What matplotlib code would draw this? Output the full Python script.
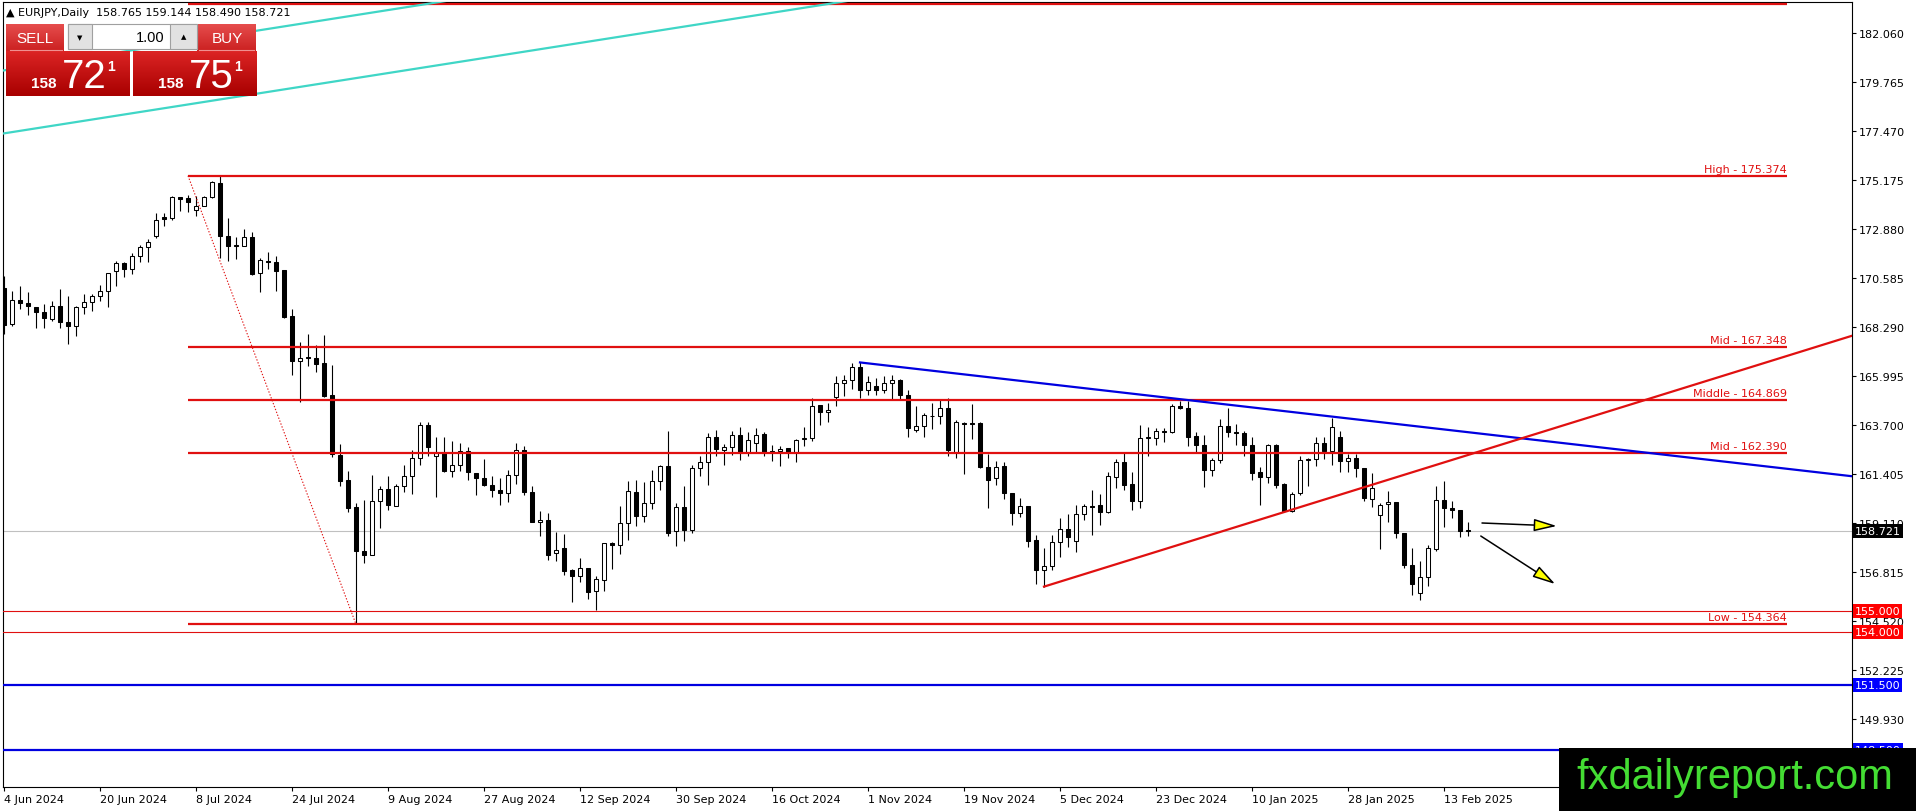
import matplotlib
matplotlib.use("Agg")
import matplotlib.pyplot as plt
import matplotlib.transforms as mtransforms
from matplotlib.patches import Rectangle
import numpy as np

# EURJPY daily candles (bar 0 = 4 Jun 2024, last = 18 Feb 2025)
opens = [170.10, 168.43, 169.57, 169.41, 169.21, 168.98, 168.66, 169.29, 168.51, 168.32,
         169.21, 169.48, 169.73, 169.99, 170.93, 171.27, 171.01, 171.63, 172.02, 172.54,
         173.43, 173.38, 174.36, 174.31, 173.77, 173.97, 174.36, 175.03, 172.54, 172.13,
         172.10, 172.49, 170.80, 171.40, 171.32, 170.96, 168.79, 166.71, 166.87, 166.86,
         166.60, 165.10, 162.29, 161.12, 159.84, 157.81, 157.63, 160.12, 160.70, 159.92,
         160.83, 161.33, 162.14, 163.70, 162.23, 162.37, 161.56, 161.84, 162.46, 161.43,
         161.20, 160.90, 160.67, 160.50, 161.37, 162.54, 160.54, 159.17, 159.26, 157.69,
         157.92, 156.91, 156.64, 156.98, 155.91, 156.45, 158.17, 158.09, 159.09, 160.54,
         159.45, 160.03, 161.06, 161.76, 158.72, 159.84, 158.80, 161.67, 161.99, 163.12,
         162.54, 162.65, 163.25, 162.42, 162.86, 163.28, 162.45, 162.47, 162.60, 162.45,
         163.04, 163.07, 164.64, 164.29, 164.99, 165.65, 165.81, 166.40, 165.35, 165.51,
         165.35, 165.65, 165.81, 165.12, 163.48, 163.67, 164.10, 164.11, 164.50, 162.45,
         163.80, 163.78, 163.79, 161.75, 161.20, 161.76, 160.51, 159.56, 159.89, 158.31,
         156.92, 157.11, 158.20, 158.83, 158.25, 159.53, 159.92, 159.95, 159.64, 161.25,
         161.95, 160.93, 160.16, 163.08, 163.08, 163.40, 163.35, 164.57, 164.48, 163.17,
         162.78, 161.61, 162.08, 163.64, 163.36, 163.32, 162.78, 161.48, 161.25, 162.76,
         160.94, 159.66, 160.50, 162.06, 162.11, 162.84, 162.46, 163.12, 162.03, 162.14,
         161.67, 160.23, 159.50, 160.00, 160.08, 158.62, 157.16, 155.81, 156.56, 157.89,
         160.20, 159.80, 159.72, 158.765]
highs = [170.69, 169.96, 170.19, 169.91, 169.21, 169.37, 169.52, 170.07, 169.73, 169.26,
         169.83, 169.83, 170.26, 170.80, 171.40, 171.35, 171.76, 172.13, 172.41, 173.63,
         173.63, 174.44, 174.36, 174.47, 174.44, 174.44, 175.14, 175.374, 173.38, 172.49,
         172.88, 172.75, 171.50, 171.79, 171.63, 170.96, 169.13, 167.57, 167.96, 167.45,
         167.91, 166.51, 162.81, 161.53, 160.03, 160.19, 161.36, 160.86, 161.29, 160.93,
         161.84, 162.54, 163.82, 163.82, 163.12, 163.12, 162.96, 162.86, 162.65, 161.43,
         162.11, 161.29, 161.20, 161.61, 162.86, 162.73, 160.83, 159.69, 159.56, 158.67,
         158.59, 156.95, 157.45, 156.98, 156.64, 158.17, 158.23, 159.92, 161.06, 161.12,
         161.04, 161.59, 161.83, 163.40, 160.03, 160.83, 161.83, 162.26, 163.31, 163.48,
         162.81, 163.43, 163.59, 163.39, 163.54, 163.36, 162.78, 162.73, 162.60, 163.04,
         163.59, 164.95, 164.64, 164.71, 165.98, 166.04, 166.60, 166.64, 166.01, 165.88,
         165.98, 166.04, 165.85, 165.34, 164.57, 164.26, 164.71, 164.89, 164.95, 163.93,
         163.86, 164.68, 163.82, 162.34, 162.03, 161.95, 160.51, 160.26, 159.89, 158.56,
         157.92, 158.56, 159.33, 159.53, 159.95, 160.00, 160.65, 160.47, 161.48, 162.11,
         162.39, 161.48, 163.71, 163.62, 163.56, 163.56, 164.68, 164.81, 164.84, 163.36,
         163.23, 162.14, 163.98, 164.48, 163.75, 163.40, 163.12, 161.72, 162.81, 162.81,
         160.98, 160.55, 162.26, 162.14, 163.12, 163.12, 164.03, 163.43, 162.34, 162.34,
         161.67, 161.45, 160.03, 160.62, 160.11, 158.62, 157.92, 157.34, 158.09, 160.86,
         161.09, 160.15, 159.72, 159.144]
lows = [167.96, 168.32, 169.13, 168.87, 168.23, 168.23, 168.59, 168.23, 167.49, 167.88,
        168.90, 169.05, 169.52, 169.24, 170.23, 170.65, 170.77, 171.32, 171.35, 172.44,
        173.00, 173.32, 173.74, 173.66, 173.47, 173.94, 174.31, 171.50, 171.40, 171.47,
        172.07, 170.72, 169.91, 171.00, 169.99, 168.70, 166.04, 164.76, 166.48, 166.17,
        165.00, 162.18, 160.83, 159.64, 154.364, 157.22, 157.63, 158.86, 159.73, 159.92,
        160.54, 160.47, 161.83, 162.23, 160.34, 161.48, 161.25, 161.56, 161.12, 160.42,
        160.83, 160.31, 159.95, 160.11, 160.94, 160.42, 159.17, 158.49, 157.39, 157.34,
        156.69, 155.39, 156.33, 155.55, 155.05, 155.94, 156.95, 157.66, 158.33, 158.95,
        159.17, 159.77, 160.67, 158.49, 158.02, 158.28, 158.63, 161.29, 160.90, 162.23,
        161.84, 162.31, 162.08, 162.23, 162.42, 162.26, 162.03, 161.76, 162.14, 161.95,
        162.73, 162.97, 163.70, 163.86, 164.60, 165.07, 165.39, 164.95, 165.10, 165.10,
        165.20, 164.92, 164.89, 163.12, 163.39, 163.15, 163.51, 163.75, 162.23, 162.15,
        161.40, 163.04, 161.67, 159.81, 160.89, 160.23, 159.03, 159.41, 157.97, 156.25,
        156.13, 156.91, 157.50, 158.00, 157.77, 159.27, 158.56, 159.03, 159.56, 160.73,
        160.67, 159.73, 159.80, 162.26, 162.76, 162.92, 163.32, 164.45, 162.73, 162.45,
        160.81, 161.33, 161.90, 163.12, 162.78, 162.26, 161.14, 159.97, 160.98, 160.73,
        159.64, 159.64, 160.42, 160.86, 161.79, 162.11, 161.84, 161.48, 161.48, 161.25,
        160.12, 159.84, 157.89, 159.14, 158.41, 157.00, 155.74, 155.52, 156.17, 157.81,
        158.94, 159.34, 158.44, 158.490]
closes = [168.38, 169.57, 169.40, 169.26, 168.98, 168.70, 169.29, 168.51, 168.35, 169.21,
          169.45, 169.73, 169.99, 170.80, 171.27, 171.01, 171.63, 172.02, 172.25, 173.32,
          173.35, 174.36, 174.28, 174.16, 173.97, 174.36, 175.07, 172.54, 172.10, 172.10,
          172.49, 170.77, 171.43, 171.35, 170.93, 168.74, 166.71, 166.86, 166.86, 166.56,
          165.07, 162.34, 161.09, 159.80, 157.81, 157.63, 160.12, 160.70, 159.95, 160.83,
          161.33, 162.14, 163.70, 162.68, 162.39, 161.56, 161.84, 162.46, 161.48, 161.20,
          160.90, 160.67, 160.50, 161.37, 162.54, 160.54, 159.17, 159.26, 157.63, 157.86,
          156.88, 156.64, 156.98, 155.86, 156.49, 158.17, 158.09, 159.09, 160.59, 159.45,
          160.03, 161.06, 161.76, 158.64, 159.84, 158.80, 161.67, 161.99, 163.12, 162.58,
          162.65, 163.25, 162.42, 163.01, 163.25, 162.45, 162.43, 162.58, 162.45, 163.01,
          163.07, 164.60, 164.29, 164.40, 165.65, 165.81, 166.40, 165.35, 165.70, 165.35,
          165.65, 165.81, 165.10, 163.54, 163.67, 164.17, 164.14, 164.50, 162.54, 163.82,
          163.76, 163.76, 161.75, 161.14, 161.75, 160.50, 159.56, 159.89, 158.28, 156.92,
          157.11, 158.20, 158.83, 158.47, 159.53, 159.89, 159.87, 159.64, 161.29, 161.95,
          160.90, 160.16, 163.08, 163.12, 163.40, 163.35, 164.57, 164.48, 163.15, 162.78,
          161.61, 162.08, 163.64, 163.36, 163.31, 162.78, 161.45, 161.25, 162.76, 160.90,
          159.66, 160.47, 162.06, 162.11, 162.84, 162.46, 163.59, 162.03, 162.14, 161.67,
          160.26, 160.73, 159.97, 160.08, 158.62, 157.16, 156.25, 156.56, 157.92, 160.20,
          159.80, 159.72, 158.72, 158.721]

date_labels = ["4 Jun 2024", "20 Jun 2024", "8 Jul 2024", "24 Jul 2024", "9 Aug 2024",
               "27 Aug 2024", "12 Sep 2024", "30 Sep 2024", "16 Oct 2024", "1 Nov 2024",
               "19 Nov 2024", "5 Dec 2024", "23 Dec 2024", "10 Jan 2025", "28 Jan 2025",
               "13 Feb 2025"]
bars_per_label = 12

price_ticks = [182.060, 179.765, 177.470, 175.175, 172.880, 170.585, 168.290, 165.995,
               163.700, 161.405, 159.110, 156.815, 154.520, 152.225, 149.930]

# fibonacci object: anchors and levels
fib_bars = [23, 44]
fib_prices = [175.374, 154.364]
fib_end_bar = 222.9
fib_levels = [183.400, 175.374, 167.348, 164.869, 162.390, 154.364]
fib_names = ["", "High", "Mid", "Middle", "Mid", "Low"]

red_levels = [155.000, 154.000]
blue_levels = [151.500, 148.500]
last_price = 158.721

blue_trend_x, blue_trend_y = [107, 231], [166.63, 161.30]
red_trend_x, red_trend_y = [130, 231], [156.13, 167.88]
cyan_a_x, cyan_a_y = [-0.5, 110], [177.33, 183.83]
cyan_b_x, cyan_b_y = [-0.5, 60], [180.28, 183.84]

arrow_flat = [(184.75, 159.11), (194.1, 158.97)]
arrow_down = [(184.6, 158.50), (193.9, 156.25)]

W, H = 1916, 812
RED = "#e01010"
BLUE = "#0000e0"

fig = plt.figure(figsize=(W / 100, H / 100), dpi=100)
fig.patch.set_facecolor("white")
ax = fig.add_axes([3 / W, (H - 788) / H, (1852 - 3) / W, (788 - 3) / H])

o = np.array(opens); h = np.array(highs); l = np.array(lows); c = np.array(closes)
idx = np.arange(len(o))
up = c >= o

ax.vlines(idx, l, h, color="black", lw=0.8, zorder=2)
body_lo = np.minimum(o, c)
body_h = np.maximum(np.abs(c - o), 0.03)
ax.bar(idx, body_h, bottom=body_lo, width=0.62,
       color=np.where(up, "white", "black"), edgecolor="black", linewidth=0.75, zorder=3)

# horizontal levels
ax.axhline(last_price, color="#c0c0c0", lw=0.8, zorder=1)
for lv in red_levels:
    ax.axhline(lv, color=RED, lw=0.8, zorder=4)
for lv in blue_levels:
    ax.axhline(lv, color=BLUE, lw=1.6, zorder=4)

# fibonacci retracement
ax.plot(fib_bars, fib_prices, color=RED, lw=0.8, ls=(0, (1.2, 1.6)), zorder=4)
for lv, name in zip(fib_levels, fib_names):
    ax.plot([fib_bars[0], fib_end_bar], [lv, lv], color=RED, lw=1.6, zorder=4,
            solid_capstyle="butt")
    if name:
        ax.text(fib_end_bar, lv, f"{name} - {lv:.3f}", color=RED, fontsize=8,
                ha="right", va="bottom", zorder=5,
                transform=ax.transData + mtransforms.ScaledTranslation(0, 1.5 / 72, fig.dpi_scale_trans))

# trend lines
ax.plot(blue_trend_x, blue_trend_y, color=BLUE, lw=1.6, zorder=4)
ax.plot(red_trend_x, red_trend_y, color=RED, lw=1.6, zorder=4)
ax.plot(cyan_a_x, cyan_a_y, color="#3fd6c6", lw=1.6, zorder=4)
ax.plot(cyan_b_x, cyan_b_y, color="#3fd6c6", lw=1.6, zorder=4)

for (x0, y0), (x1, y1) in [arrow_flat, arrow_down]:
    ax.annotate("", xy=(x1, y1), xytext=(x0, y0), zorder=6,
                arrowprops=dict(arrowstyle="-|>,head_length=1.4,head_width=0.38",
                                fc="#ffff00", ec="black", lw=1.1, shrinkA=0, shrinkB=0))

ax.set_xlim(-0.125, 231)
ax.set_ylim(146.745, 183.512)

# axes styling like the terminal
for s in ax.spines.values():
    s.set_color("black")
    s.set_linewidth(0.8)
ax.yaxis.tick_right()
ax.set_yticks(price_ticks)
ax.set_yticklabels([f"{p:.3f}" for p in price_ticks])
ax.tick_params(axis="y", direction="out", length=3, width=0.8, pad=2, labelsize=8)
ax.set_xticks(np.arange(len(date_labels)) * bars_per_label)
ax.set_xticklabels(date_labels)
ax.tick_params(axis="x", direction="out", length=3, width=0.8, pad=2, labelsize=8)
for lbl in ax.get_xticklabels():
    lbl.set_ha("left")

# coloured price boxes on the right scale
tr = mtransforms.blended_transform_factory(ax.transAxes, ax.transData)
boxes = [(last_price, "black")] + [(v, "#ff0000") for v in red_levels] + [(v, "#0000ff") for v in blue_levels]
for val, col in boxes:
    ax.text(1.0015, val, f"{val:.3f}", transform=tr, color="white", fontsize=8,
            ha="left", va="center", clip_on=False, zorder=8,
            bbox=dict(boxstyle="square,pad=0.18", fc=col, ec="none"))

# overlay in pixel coordinates: header, trade panel, watermark
ov = fig.add_axes([0, 0, 1, 1], zorder=10)
ov.axis("off")


def grad_box(x0, y0, x1, y1, top, bottom):
    g = np.linspace(0, 1, 32)[:, None, None]
    img = (1 - g) * np.array(top) + g * np.array(bottom)
    ov.imshow(img, extent=(x0, x1, y1, y0), aspect="auto", origin="upper",
              interpolation="bilinear", zorder=1)


ov.text(6, 13, "\u25b2 EURJPY,Daily  158.765 159.144 158.490 158.721", fontsize=8,
        va="center", ha="left", color="black")

big_font = ["Liberation Sans Narrow", "Liberation Sans", "DejaVu Sans"]
grad_box(6, 25, 64, 52, (0.90, 0.30, 0.30), (0.80, 0.13, 0.13))
grad_box(197, 25, 256, 52, (0.90, 0.30, 0.30), (0.80, 0.13, 0.13))
ov.text(35, 39, "SELL", color="white", fontsize=11, ha="center", va="center", family=big_font)
ov.text(227, 39, "BUY", color="white", fontsize=11, ha="center", va="center", family=big_font)
ov.plot([10, 62], [51, 51], color="#f09090", lw=0.8, zorder=2)
ov.plot([199, 254], [51, 51], color="#f09090", lw=0.8, zorder=2)

ov.add_patch(Rectangle((68, 25), 129, 25, fc="white", ec="#a0a0a0", lw=0.8, zorder=1))
ov.add_patch(Rectangle((68, 25), 24, 25, fc="#e2e2e2", ec="#a0a0a0", lw=0.8, zorder=2))
ov.add_patch(Rectangle((170, 25), 27, 25, fc="#e2e2e2", ec="#a0a0a0", lw=0.8, zorder=2))
ov.text(80, 38, "\u25bc", fontsize=5, ha="center", va="center", zorder=3)
ov.text(183.5, 37, "\u25b2", fontsize=5, ha="center", va="center", zorder=3)
ov.text(165, 38, "1.00", fontsize=10.5, ha="right", va="center", zorder=3, family=big_font)

for x0, big in [(6, "72"), (133, "75")]:
    grad_box(x0, 52, x0 + 124, 97, (0.86, 0.14, 0.14), (0.66, 0.0, 0.0))
    ov.text(x0 + 25, 88, "158", color="white", fontsize=11, fontweight="bold",
            ha="left", va="baseline", zorder=3, family=big_font)
    ov.text(x0 + 56, 88, big, color="white", fontsize=29, ha="left", va="baseline",
            zorder=3, family=big_font)
    ov.text(x0 + 101, 67, "1", color="white", fontsize=10, fontweight="bold",
            ha="left", va="center", zorder=3, family=big_font)

ov.add_patch(Rectangle((1559, 749), W - 1559, H - 749, fc="black", ec="none", zorder=5))
ov.text(1576, 789, "fxdailyreport.com", color="#44dd33", fontsize=30, ha="left",
        va="baseline", zorder=6, family=["Liberation Sans", "DejaVu Sans"])

ov.set_xlim(0, W)
ov.set_ylim(H, 0)

fig.savefig("out.png", dpi=100)
